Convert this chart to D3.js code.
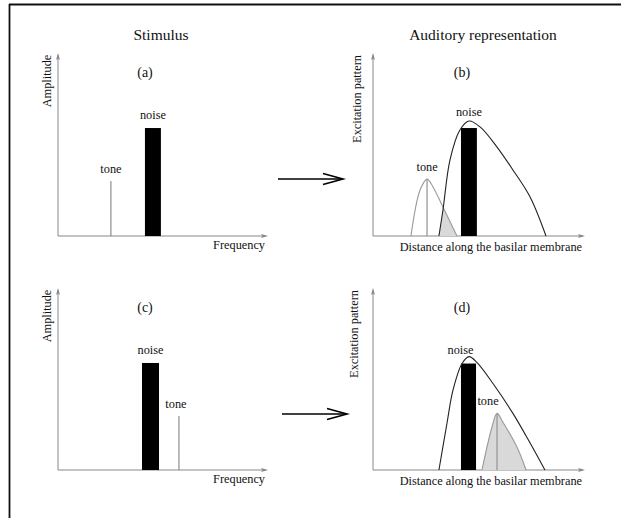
<!DOCTYPE html>
<html>
<head>
<meta charset="utf-8">
<script src="https://cdn.jsdelivr.net/npm/d3@7"></script>
<style>
  body { margin: 0; background: #fff; }
</style>
</head>
<body>
<svg width="621" height="518"></svg>
<script>
// stimulus panels (a), (c): x = frequency 0..100, y = amplitude 0..100
var toneFreq = [25.2, 57.6];
var toneLevel = [30, 29.7];
var noiseLo = [41.4, 40.0];
var noiseHi = [49.0, 48.1];
var noiseLevel = [59, 58.8];

// excitation panels (b), (d): x = place 0..100, y = excitation 0..100
var excNoiseB = [[31.1, 0], [33.0, 14.2], [36.3, 41.5], [41.0, 57.9], [45.3, 62.8], [50.5, 59.6],
  [58.5, 48.6], [66.0, 36.1], [74.1, 21.3], [81.6, 0]];
var excToneB = [[17.9, 0], [22.2, 25.1], [25.5, 31.1], [28.3, 26.8], [33.0, 15.8], [39.6, 0]];
var excNoiseD = [[31.1, 0], [34.9, 25.7], [37.7, 43.7], [42.0, 58.5], [45.3, 62.3], [49.1, 59.0],
  [56.6, 47.5], [66.0, 31.1], [74.1, 14.8], [81.1, 0]];
var excToneD = [[51.4, 0], [56.1, 23.5], [58.5, 31.1], [61.3, 26.2], [67.9, 12.6], [72.2, 0]];
var excBarLo = [41.5, 41.5];
var excBarHi = [49.0, 48.6];
var excBarLevel = [59, 58.5];
var excTonePlace = [25.5, 58.5];
var excToneLevel = [31.1, 31.1];

var panelLabels = ['(a)', '(b)', '(c)', '(d)'];

var FONT = "'Liberation Serif', 'Times New Roman', Times, 'DejaVu Serif', serif";
var svg = d3.select('svg');

// frame
svg.append('line').attr('x1', 9).attr('y1', 4.5).attr('x2', 621).attr('y2', 4.5)
  .attr('stroke', '#111').attr('stroke-width', 1.8);
svg.append('line').attr('x1', 9.5).attr('y1', 4).attr('x2', 9.5).attr('y2', 518)
  .attr('stroke', '#111').attr('stroke-width', 1.8);

function txt(g, s, size) {
  return g.append('text').attr('font-family', FONT).attr('font-size', size || 12.3)
    .attr('fill', '#111').text(s);
}

txt(svg, 'Stimulus', 15.5).attr('x', 161).attr('y', 40).attr('text-anchor', 'middle');
txt(svg, 'Auditory representation', 15.5).attr('x', 483).attr('y', 40).attr('text-anchor', 'middle');

var rows = [
  { base: 236, top: 53 },
  { base: 470, top: 288 }
];

function axes(g, x, y, xLabel, yLabel, xLabelY, yLabelX) {
  var r = x.range(), b = y(0), t = y.range()[1];
  g.append('line').attr('x1', r[0]).attr('y1', b).attr('x2', r[1] - 2).attr('y2', b)
    .attr('stroke', '#888').attr('stroke-width', 1);
  g.append('line').attr('x1', r[0]).attr('y1', b).attr('x2', r[0]).attr('y2', t + 2)
    .attr('stroke', '#888').attr('stroke-width', 1);
  g.append('path').attr('d', 'M' + r[1] + ',' + b + 'l-7,-2l1.5,2l-1.5,2z').attr('fill', '#888');
  g.append('path').attr('d', 'M' + r[0] + ',' + t + 'l-2,7l2,-1.5l2,1.5z').attr('fill', '#888');
  txt(g, xLabel).attr('x', r[1] - 3).attr('y', xLabelY).attr('text-anchor', 'end');
  var cy = t + 28 + (yLabel.length > 10 ? 18 : 0);
  txt(g, yLabel).attr('transform', 'translate(' + yLabelX + ',' + cy + ') rotate(-90)')
    .attr('text-anchor', 'middle');
}

function label(g, x, y, s, size) {
  txt(g, s, size).attr('x', x).attr('y', y).attr('text-anchor', 'middle');
}

// stimulus panels
[0, 1].forEach(function (i) {
  var row = rows[i];
  var x = d3.scaleLinear().domain([0, 100]).range([58, 268]);
  var y = d3.scaleLinear().domain([0, 100]).range([row.base, row.top]);
  var g = svg.append('g');
  axes(g, x, y, 'Frequency', 'Amplitude', row.base + 13, 51);
  g.append('rect').attr('x', x(noiseLo[i])).attr('y', y(noiseLevel[i]))
    .attr('width', x(noiseHi[i]) - x(noiseLo[i])).attr('height', y(0) - y(noiseLevel[i]))
    .attr('fill', '#000');
  g.append('line').attr('x1', x(toneFreq[i])).attr('x2', x(toneFreq[i]))
    .attr('y1', y(0)).attr('y2', y(toneLevel[i])).attr('stroke', '#777').attr('stroke-width', 1);
  label(g, 145, row.top + 24, panelLabels[i * 2], 14);
  label(g, x((noiseLo[i] + noiseHi[i]) / 2), y(noiseLevel[i]) - 9, 'noise');
  label(g, x(toneFreq[i]) - (i ? 3 : 0), y(toneLevel[i]) - 8, 'tone');
});

// excitation panels
var excNoise = [excNoiseB, excNoiseD];
var excTone = [excToneB, excToneD];
var toneLabelDx = [0, -9];
[0, 1].forEach(function (i) {
  var row = rows[i];
  var x = d3.scaleLinear().domain([0, 100]).range([373, 585]);
  var y = d3.scaleLinear().domain([0, 100]).range([row.base, row.top]);
  var g = svg.append('g');
  axes(g, x, y, 'Distance along the basilar membrane', 'Excitation pattern', row.base + 15, i ? 358 : 361);

  var curve = d3.curveCatmullRom.alpha(0.5);
  var line = d3.line().x(function (d) { return x(d[0]); }).y(function (d) { return y(d[1]); })
    .curve(curve);
  var area = d3.area().x(function (d) { return x(d[0]); }).y0(y(0)).y1(function (d) { return y(d[1]); })
    .curve(curve);

  var clipId = 'clip' + i;
  g.append('clipPath').attr('id', clipId).append('path').attr('d', area(excNoise[i]));
  g.append('path').attr('d', area(excTone[i])).attr('fill', '#d9d9d9')
    .attr('clip-path', 'url(#' + clipId + ')');

  g.append('path').attr('d', line(excTone[i])).attr('fill', 'none')
    .attr('stroke', '#999').attr('stroke-width', 1.1);
  g.append('line').attr('x1', x(excTonePlace[i])).attr('x2', x(excTonePlace[i]))
    .attr('y1', y(0)).attr('y2', y(excToneLevel[i])).attr('stroke', '#999').attr('stroke-width', 1.3);

  g.append('rect').attr('x', x(excBarLo[i])).attr('y', y(excBarLevel[i]))
    .attr('width', x(excBarHi[i]) - x(excBarLo[i])).attr('height', y(0) - y(excBarLevel[i]))
    .attr('fill', '#000');
  g.append('path').attr('d', line(excNoise[i])).attr('fill', 'none')
    .attr('stroke', '#222').attr('stroke-width', 1.1);

  label(g, 462, row.top + 24, panelLabels[i * 2 + 1], 14);
  label(g, x((excBarLo[i] + excBarHi[i]) / 2) + (i ? -8 : 0), y(excBarLevel[i]) - 12 + (i ? 2 : 0), 'noise');
  label(g, x(excTonePlace[i]) + toneLabelDx[i], y(excToneLevel[i]) - 8, 'tone');
});

// arrows between stimulus and representation
function arrow(x1, x2, yy) {
  svg.append('line').attr('x1', x1).attr('y1', yy).attr('x2', x2).attr('y2', yy)
    .attr('stroke', '#000').attr('stroke-width', 1.6);
  svg.append('path').attr('d', 'M' + (x2 - 20) + ',' + (yy - 5.5) + 'L' + x2 + ',' + yy + 'L' + (x2 - 20) + ',' + (yy + 5.5))
    .attr('fill', 'none').attr('stroke', '#000').attr('stroke-width', 1.6);
}
arrow(278, 343, 179);
arrow(282, 347, 414);
</script>
</body>
</html>
